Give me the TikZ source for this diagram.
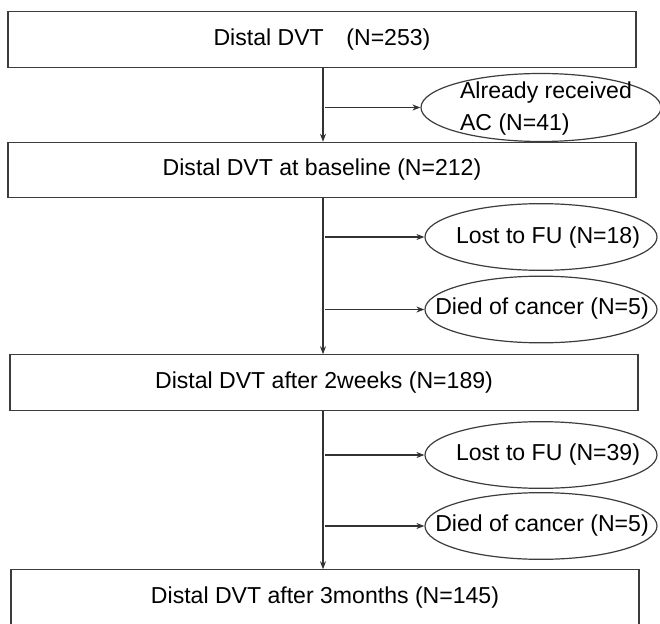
\documentclass[tikz,border=0pt]{standalone}
\usepackage{fontspec}
\setmainfont{Liberation Sans}
\usetikzlibrary{shapes.geometric,arrows.meta}

\tikzset{every picture/.style={line width=0.9pt}}
\tikzset{
  stagebox/.style={draw={rgb, 255:red, 60; green, 60; blue, 60 }, rectangle, inner sep=0pt, minimum width=471pt, minimum height=41.5pt, font=\fontsize{17.3}{24}\selectfont},
  dropout/.style={draw={rgb, 255:red, 60; green, 60; blue, 60 }, ellipse, inner sep=0pt, minimum width=174pt, minimum height=50pt},
  dropouttext/.style={inner sep=0pt, font=\fontsize{17.3}{24}\selectfont},
  flowline/.style={draw={rgb, 255:red, 50; green, 50; blue, 50 }, -{Stealth[length=6pt,width=4.5pt]}}
}

\begin{document}
\begin{tikzpicture}[x=0.75pt,y=0.75pt,yscale=-1,xscale=1]
        \useasboundingbox (0,0) rectangle (660,624);

        %Boxes
        \node [stagebox] (total) at (322,39.5) {Distal DVT\hspace{17pt}(N=253)};
        \node [stagebox] (baseline) at (322,170) {Distal DVT at baseline (N=212)};
        \node [stagebox] (weeks) at (324,382.5) {Distal DVT after 2weeks (N=189)};
        \node [stagebox] (months) at (325,597.5) {Distal DVT after 3months (N=145)};

        %Ellipses
        \node [dropout, minimum width=180pt, minimum height=51pt] (prior) at (541,107.5) {};
        \node [dropout] (lostA) at (541,237) {};
        \node [dropout] (diedA) at (541,309.5) {};
        \node [dropout] (lostB) at (541,455) {};
        \node [dropout] (diedB) at (541,526) {};

        %Ellipse texts
        \node [dropouttext, align=left] (priortext) at (546,109) {Already received\\AC (N=41)};
        \node [dropouttext] (lostAtext) at (548,238) {Lost to FU (N=18)};
        \node [dropouttext] (diedAtext) at (542,309) {Died of cancer (N=5)};
        \node [dropouttext] (lostBtext) at (548,455) {Lost to FU (N=39)};
        \node [dropouttext] (diedBtext) at (542,526) {Died of cancer (N=5)};

        %Main line
        \draw [flowline] (total.south -| 323,0) -- (baseline.north -| 323,0);
        \draw [flowline] (baseline.south -| 323,0) -- (weeks.north -| 323,0);
        \draw [flowline] (weeks.south -| 323,0) -- (months.north -| 323,0);

        %Side arrows
        \draw [flowline] (prior.west -| 325,0) -- (prior.west);
        \draw [flowline] (lostA.west -| 325,0) -- (lostA.west);
        \draw [flowline] (diedA.west -| 325,0) -- (diedA.west);
        \draw [flowline] (lostB.west -| 325,0) -- (lostB.west);
        \draw [flowline] (diedB.west -| 325,0) -- (diedB.west);
\end{tikzpicture}
\end{document}
